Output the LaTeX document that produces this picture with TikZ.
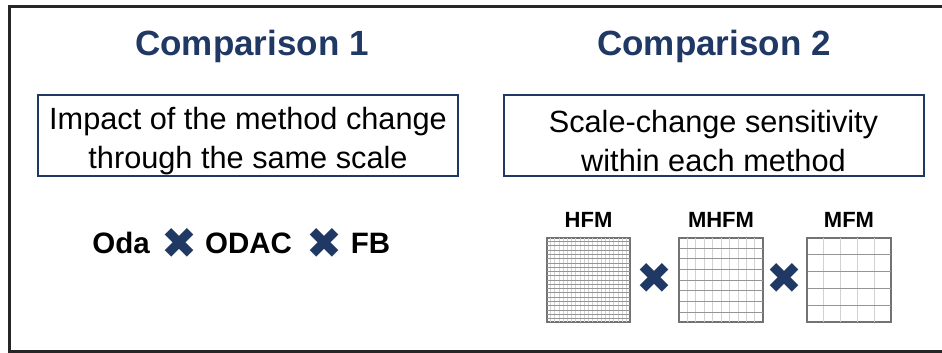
\documentclass[tikz,border=0pt]{standalone}
\usepackage{fontspec}
\setmainfont{Liberation Sans}
\newfontfamily\symfont{DejaVu Sans}
\usepackage{tikz}
\usepackage{xcolor}
\usetikzlibrary{positioning,calc}
\definecolor{navy}{RGB}{31,56,100}

\begin{document}
\begin{tikzpicture}[x=1pt, y=-1pt,
    title/.style={font=\fontsize{35}{42}\selectfont\bfseries, text=navy, inner sep=0pt, anchor=base},
    aimbox/.style={draw=navy, line width=2pt, minimum width=420pt, minimum height=81pt, align=center, inner sep=0pt, font=\fontsize{30.7}{39}\selectfont},
    method/.style={font=\fontsize{29.5}{35}\selectfont\bfseries, inner sep=0pt, anchor=base},
    crossmark/.style={font=\symfont\fontsize{43}{43}\selectfont, text=navy, inner sep=0pt},
    gridbox/.style={draw=black!55, line width=1.4pt, minimum width=83pt, minimum height=84pt, inner sep=0pt},
    gridlabel/.style={font=\fontsize{22}{26}\selectfont\bfseries, inner sep=0pt},
    gridv/.style={draw=black!18, line width=0.7pt},
    gridh/.style={draw=black!42, line width=0.7pt}]
        \useasboundingbox (0,0) rectangle (942,353);
        % outer frame, cut off on the right
        \draw[line width=3pt, black!85] (950,7) -- (9.5,7) -- (9.5,351.5) -- (950,351.5);

        % comparison 1
        \node[aimbox] (aim1) at (248,135.5) {\rule{0pt}{33pt}Impact of the method change\\through the same scale};
        \node[title] (t1) at (252,56) {Comparison 1};
        \node[method] (oda) at (121,253.6) {Oda};
        \node[crossmark] (x1) at (180,243) {✖};
        \node[method] (odac) at (248.5,253.6) {ODAC};
        \node[crossmark] (x2) at (325,243) {✖};
        \node[method] (fb) at (370.5,253.6) {FB};

        % comparison 2
        \node[aimbox] (aim2) at (713.5,135.5) {\rule{0pt}{33pt}Scale-change sensitivity\\within each method};
        \node[title] (t2) at (714,56) {Comparison 2};
        \node[gridbox] (hfm) at (588.5,280) {};
        \node[gridbox] (mhfm) at (721,280) {};
        \node[gridbox] (mfm) at (849,280) {};
        \foreach \g/\nc/\nr in {hfm/20/20, mhfm/10/8, mfm/5/5} {
            \pgfmathtruncatemacro\lastc{\nc-1}
            \pgfmathtruncatemacro\lastr{\nr-1}
            \foreach \i in {1,...,\lastc}
                \draw[gridv] ($(\g.south west)!\i/\nc!(\g.south east)$) -- ($(\g.north west)!\i/\nc!(\g.north east)$);
            \foreach \j in {1,...,\lastr}
                \draw[gridh] ($(\g.south west)!\j/\nr!(\g.north west)$) -- ($(\g.south east)!\j/\nr!(\g.north east)$);
            \draw[black!55, line width=1.4pt] (\g.south west) rectangle (\g.north east);
        }
        \node[gridlabel, above=10pt of hfm] (l1) {HFM};
        \node[gridlabel, above=10pt of mhfm] (l2) {MHFM};
        \node[gridlabel, above=10pt of mfm] (l3) {MFM};
        \node[crossmark] (x3) at ($(hfm.east)!0.5!(mhfm.west)+(0,-2)$) {✖};
        \node[crossmark] (x4) at ($(mhfm.east)!0.5!(mfm.west)+(0,-2)$) {✖};
      \end{tikzpicture}
\end{document}
